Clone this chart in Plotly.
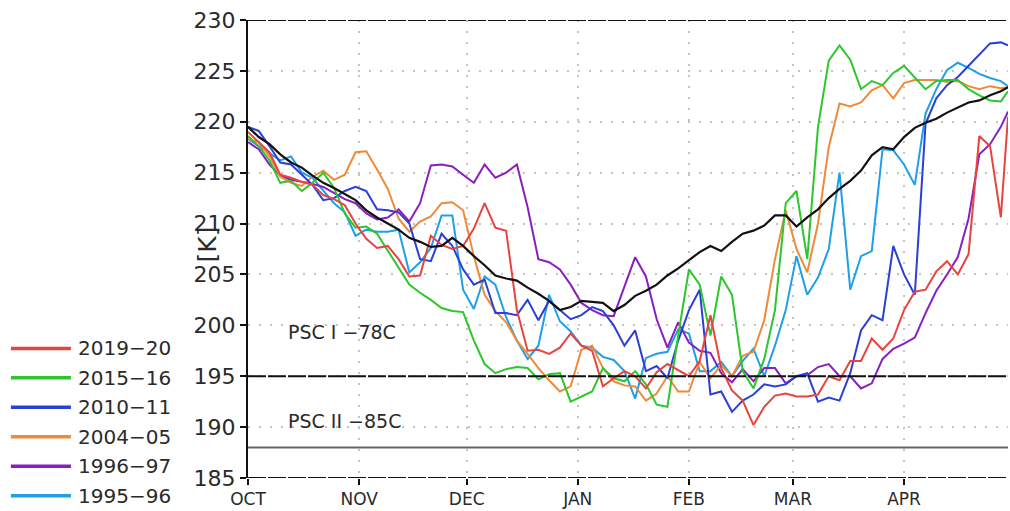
import plotly.graph_objects as go

# ---- data (day index from 1 October, sampled every 3 days) ----
DAYS = list(range(0, 211, 3)) + [212]

MONTH_TICKS = [0, 31, 61, 92, 123, 152, 183]
MONTH_LABELS = ["OCT", "NOV", "DEC", "JAN", "FEB", "MAR", "APR"]
Y_TICKS = [185, 190, 195, 200, 205, 210, 215, 220, 225, 230]

PSC1_LEVEL = 195
PSC2_LEVEL = 188
PSC1_TEXT = "PSC I \u221278C"
PSC2_TEXT = "PSC II \u221285C"

T_2019_20 = [219.0, 218.0, 217.0, 214.8, 214.5, 214.1, 213.8, 212.8, 212.4, 211.8,
             210.0, 208.5, 207.6, 207.8, 206.5, 204.8, 204.9, 208.8, 207.9, 207.5,
             207.8, 209.5, 212.0, 209.6, 209.3, 201.5, 197.5, 197.6, 197.2, 197.8,
             199.2, 198.0, 197.5, 194.0, 194.8, 195.5, 195.0, 193.8, 195.4, 196.2,
             195.6, 195.0, 196.5, 201.0, 195.8, 193.6, 192.6, 190.2, 192.0, 193.1,
             193.3, 193.0, 193.0, 193.2, 195.0, 194.6, 196.5, 196.5, 198.7, 197.6,
             198.7, 201.5, 203.3, 203.5, 205.3, 206.3, 205.0, 207.0, 218.6, 217.6,
             210.6, 220.5]

T_2015_16 = [218.6, 217.6, 216.2, 214.0, 214.2, 213.2, 214.0, 215.0, 213.5, 211.0,
             209.6, 209.7, 209.0, 207.3, 205.6, 204.0, 203.2, 202.5, 201.7, 201.4,
             201.3, 198.5, 196.2, 195.3, 195.7, 195.9, 195.8, 194.7, 195.2, 195.3,
             192.5, 193.0, 193.5, 195.8, 194.8, 194.5, 195.5, 194.2, 192.2, 192.0,
             199.0, 205.5, 204.0, 199.0, 204.8, 203.0, 195.5, 193.8, 196.7, 201.5,
             212.0, 213.2, 206.5, 219.5, 226.0, 227.5, 226.1, 223.2, 224.0, 223.6,
             224.8, 225.5, 224.3, 223.2, 224.0, 224.1, 224.1, 223.2, 222.6, 222.1,
             222.0, 223.0]

T_2010_11 = [219.5, 219.1, 217.6, 216.0, 215.8, 214.8, 213.8, 212.3, 212.5, 213.2,
             213.6, 213.2, 211.4, 211.3, 211.1, 210.0, 206.5, 206.3, 209.0, 207.8,
             205.5, 204.0, 204.5, 201.2, 201.2, 201.0, 202.5, 200.5, 202.4, 201.5,
             200.6, 201.0, 201.8, 201.4, 200.0, 198.0, 199.5, 195.5, 196.0, 194.8,
             198.5, 201.5, 203.5, 193.2, 193.5, 191.5, 192.6, 193.2, 194.2, 194.0,
             194.2, 195.0, 195.3, 192.5, 192.9, 192.6, 195.3, 199.5, 201.0, 200.5,
             207.8, 205.0, 203.0, 219.8, 222.3, 223.6, 224.4, 225.5, 226.6, 227.7,
             227.8, 227.5]

T_2004_05 = [218.3, 218.0, 216.6, 214.6, 214.0, 213.7, 214.6, 215.2, 214.3, 214.8,
             217.0, 217.1, 215.3, 213.4, 210.5, 209.2, 210.2, 210.7, 212.0, 212.1,
             211.3, 206.8, 203.0, 201.4, 200.3, 198.5, 197.2, 195.8, 194.6, 193.5,
             194.0, 197.6, 198.0, 195.8, 194.5, 194.1, 194.0, 192.6, 193.3, 195.0,
             193.5, 193.5, 196.4, 194.8, 196.1, 195.0, 197.0, 197.4, 200.5, 206.5,
             211.3, 207.5, 205.2, 210.0, 217.5, 221.8, 221.5, 221.9, 223.1, 223.6,
             222.3, 223.8, 224.1, 224.1, 224.1, 223.9, 224.0, 223.5, 223.2, 223.5,
             223.3, 223.4]

T_1996_97 = [218.0, 217.3, 215.8, 214.7, 214.3, 214.1, 213.9, 213.6, 213.0, 212.4,
             212.0, 211.0, 210.4, 210.6, 211.4, 210.2, 212.0, 215.7, 215.8, 215.6,
             214.8, 214.0, 215.8, 214.5, 215.0, 215.8, 211.6, 206.5, 206.2, 205.5,
             204.0, 202.2, 201.5, 201.0, 200.9, 203.8, 206.7, 204.8, 200.6, 197.8,
             200.3, 198.3, 197.5, 197.3, 195.3, 194.4, 195.7, 194.5, 195.8, 195.8,
             194.3, 195.0, 195.1, 195.9, 196.2, 195.0, 195.0, 193.8, 194.3, 196.7,
             197.7, 198.2, 198.8, 201.2, 203.4, 205.0, 206.7, 210.5, 216.8, 217.8,
             219.5, 221.0]

T_1995_96 = [218.3, 217.6, 216.9, 216.2, 216.6, 215.0, 214.5, 213.2, 212.0, 211.1,
             208.8, 209.4, 209.2, 209.2, 209.4, 205.2, 206.2, 207.6, 210.8, 210.8,
             203.5, 201.6, 204.8, 204.0, 200.8, 198.5, 196.7, 198.0, 203.0, 200.4,
             199.4, 198.0, 197.8, 196.9, 196.6, 195.5, 192.8, 196.8, 197.2, 197.4,
             199.6, 199.2, 195.5, 195.5, 196.4, 195.0, 196.5, 197.7, 195.0, 198.0,
             201.5, 206.8, 203.0, 204.7, 207.5, 215.0, 203.5, 206.8, 207.3, 217.3,
             217.2, 215.8, 213.8, 220.8, 223.2, 225.1, 225.8, 225.3, 224.7, 224.3,
             224.0, 223.5]

T_MEAN = [219.5, 218.5, 217.8, 216.8, 216.0, 215.5, 214.7, 214.0, 213.5, 212.9,
          212.3, 211.3, 210.6, 210.0, 209.4, 208.6, 208.2, 207.7, 207.8, 208.6,
          207.8, 206.8, 205.9, 204.9, 204.6, 204.4, 203.7, 203.1, 202.4, 201.5,
          201.8, 202.4, 202.3, 202.2, 201.4, 202.0, 202.9, 203.4, 204.0, 204.9,
          205.6, 206.4, 207.2, 207.8, 207.3, 208.2, 209.0, 209.3, 209.8, 210.8,
          210.8, 209.7, 210.6, 211.4, 212.5, 213.4, 214.2, 215.2, 216.7, 217.5,
          217.3, 218.5, 219.4, 219.9, 220.3, 220.9, 221.4, 221.9, 222.1, 222.6,
          223.0, 223.4]

SEASONS = ["2019\u221220", "2015\u221216", "2010\u221211", "2004\u221205", "1996\u221297", "1995\u221296"]
SERIES = [T_2019_20, T_2015_16, T_2010_11, T_2004_05, T_1996_97, T_1995_96]
COLORS = ["#e8443e", "#2cc72c", "#2a3fd8", "#ee8a38", "#8a1fbf", "#1f9fe8"]

FONT = "DejaVu Sans, Liberation Sans, sans-serif"
TXT = "#2a2a2a"

fig = go.Figure()

# draw oldest first so that the newest seasons lie on top
for name, vals, col in reversed(list(zip(SEASONS, SERIES, COLORS))):
    fig.add_trace(go.Scatter(x=DAYS, y=vals, mode="lines", name=name,
                             line=dict(color=col, width=2), showlegend=False))

fig.add_trace(go.Scatter(x=DAYS, y=T_MEAN, mode="lines", name="mean",
                         line=dict(color="#111111", width=2.2), showlegend=False))

# reference levels and frame
fig.add_hline(y=PSC1_LEVEL, line=dict(color="#111111", width=2, dash="18px,2px"), layer="above")
fig.add_hline(y=PSC2_LEVEL, line=dict(color="#666666", width=2), layer="above")
fig.add_hline(y=Y_TICKS[-1], line=dict(color="#111111", width=2, dash="18px,2px"), layer="above")
fig.add_hline(y=Y_TICKS[0], line=dict(color="#111111", width=2, dash="18px,2px"), layer="above")

fig.add_annotation(x=10.5, y=199.3, text=PSC1_TEXT, showarrow=False, xanchor="left",
                   yanchor="middle", font=dict(family=FONT, size=19, color=TXT))
fig.add_annotation(x=10.5, y=190.6, text=PSC2_TEXT, showarrow=False, xanchor="left",
                   yanchor="middle", font=dict(family=FONT, size=19, color=TXT))

# y-axis title
fig.add_annotation(xref="paper", yref="paper", x=-0.054, y=0.51, text="[K]",
                   textangle=-90, showarrow=False, xanchor="center", yanchor="middle",
                   font=dict(family=FONT, size=25, color=TXT))

# manual legend at the lower left
legend_top = 0.283
legend_step = 0.0643
for i, (name, col) in enumerate(zip(SEASONS, COLORS)):
    yy = legend_top - i * legend_step
    fig.add_shape(type="line", xref="paper", yref="paper", x0=-0.312, x1=-0.233,
                  y0=yy, y1=yy, line=dict(color=col, width=3.5))
    fig.add_annotation(xref="paper", yref="paper", x=-0.226, y=yy, text=name,
                       showarrow=False, xanchor="left", yanchor="middle",
                       font=dict(family=FONT, size=20, color=TXT))

fig.update_layout(
    width=1010, height=511,
    margin=dict(l=248, r=2, t=20, b=31),
    paper_bgcolor="white", plot_bgcolor="white",
    showlegend=False,
    font=dict(family=FONT, color=TXT),
)
fig.update_xaxes(range=[0, 212], tickmode="array", tickvals=MONTH_TICKS, ticktext=MONTH_LABELS,
                 ticks="outside", ticklen=6, tickwidth=1.5, tickcolor="#111111",
                 showline=False, zeroline=False,
                 showgrid=True, gridcolor="#c4c4c4", griddash="2px,9px", gridwidth=1.5,
                 tickfont=dict(family=FONT, size=17, color=TXT))
fig.update_yaxes(range=[185, 230], tickmode="array", tickvals=Y_TICKS,
                 ticks="outside", ticklen=6, tickwidth=1.5, tickcolor="#111111",
                 showline=True, linecolor="#111111", linewidth=2, zeroline=False,
                 showgrid=True, gridcolor="#c4c4c4", griddash="2px,9px", gridwidth=1.5,
                 tickfont=dict(family=FONT, size=22, color=TXT))

fig.write_html("out.html")
